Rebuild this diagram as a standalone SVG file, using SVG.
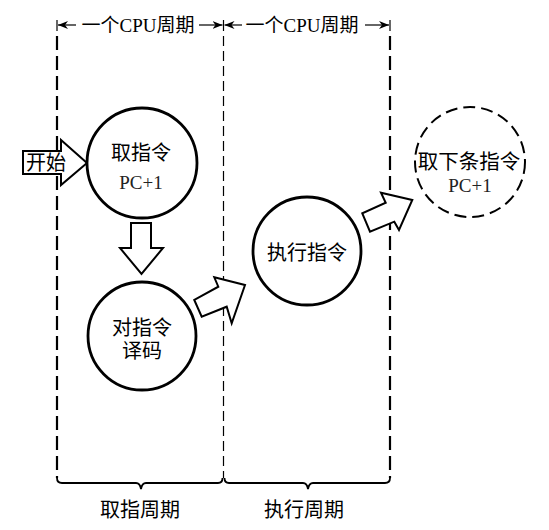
<svg xmlns="http://www.w3.org/2000/svg" width="549" height="530" viewBox="0 0 549 530">
<style>
.t{font-family:"Liberation Serif","Noto Sans CJK SC",serif;fill:#000;text-anchor:middle}
.cn{font-size:19px}
.nd{font-size:20px}
.pc{font-size:19px;fill:#222}
.node{fill:#fff;stroke:#000;stroke-width:2.8}
.dnode{fill:#fff;stroke:#000;stroke-width:2;stroke-dasharray:12 6}
.arw{fill:#fff;stroke:#000;stroke-width:2;stroke-linejoin:miter}
.thick{stroke:#000;stroke-width:2.2;stroke-dasharray:14 6;fill:none}
.thin{stroke:#000;stroke-width:1.2;stroke-dasharray:10 5;fill:none}
.brace{stroke:#000;stroke-width:1.8;fill:none}
.dim{stroke:#000;stroke-width:1.2;fill:none}
</style>
<defs>
<marker id="ah" viewBox="0 0 10 8" refX="10" refY="4" markerWidth="10" markerHeight="8" markerUnits="userSpaceOnUse" orient="auto">
<path d="M0,0 L10,4 L0,8 L3,4 Z" fill="#000"/>
</marker>
</defs>
<rect width="549" height="530" fill="#fff"/>
<g id="frame">
<line class="thick" x1="57" y1="36" x2="57" y2="478"/>
<line class="thin" x1="223.5" y1="36" x2="223.5" y2="478"/>
<line class="thick" x1="390" y1="36" x2="390" y2="478"/>
<path class="brace" d="M57,478 Q57,483 62,483 H136 Q140,483 141,489 Q142,483 146,483 H218 Q222.5,483 222.5,478"/>
<path class="brace" d="M224.5,478 Q224.5,483 229,483 H303 Q307,483 308,489 Q309,483 313,483 H385 Q390,483 390,478"/>
<g id="dimension">
<line class="dim" x1="57" y1="20" x2="57" y2="31" stroke-width="2"/>
<line class="dim" x1="223.5" y1="20" x2="223.5" y2="31"/>
<line class="dim" x1="390" y1="20" x2="390" y2="31" stroke-width="2"/>
<line class="dim" x1="76" y1="25" x2="58" y2="25" marker-end="url(#ah)"/>
<line class="dim" x1="199" y1="25" x2="222.5" y2="25" marker-end="url(#ah)"/>
<line class="dim" x1="242" y1="25" x2="224.5" y2="25" marker-end="url(#ah)"/>
<line class="dim" x1="365" y1="25" x2="389" y2="25" marker-end="url(#ah)"/>
<text class="t cn" x="138" y="32">一个CPU周期</text>
<text class="t cn" x="302" y="32">一个CPU周期</text>
</g>
<text class="t" x="140" y="517" font-size="20">取指周期</text>
<text class="t" x="304" y="517" font-size="20">执行周期</text>
</g>
<g id="connectors">
<g id="start-arrow">
<polygon class="arw" points="23,151 61,151 61,140 87,163 61,185 61,174 23,174"/>
<text class="t" font-size="20" x="46" y="170">开始</text>
</g>
<polygon class="arw" points="131,223 151,223 151,248 163,248 141.5,274 120,248 131,248"/>
<polygon class="arw" points="194.3,300 201.7,316.7 226.7,306.7 231.7,323.3 245,285 214.3,277.3 218.3,286.7"/>
<polygon class="arw" points="362.3,213.3 370,231.7 394.3,221.7 399,230 412.3,200 381,192.7 385.7,202.7"/>
</g>
<g id="fetch">
<circle class="node" cx="142" cy="163" r="55"/>
<text class="t nd" x="141" y="160">取指令</text>
<text class="t pc" x="141" y="189">PC+1</text>
</g>
<g id="decode">
<circle class="node" cx="142" cy="336" r="54"/>
<text class="t nd" x="142" y="335">对指令</text>
<text class="t nd" x="142" y="358">译码</text>
</g>
<g id="execute">
<circle class="node" cx="307" cy="251" r="54"/>
<text class="t nd" x="307" y="260">执行指令</text>
</g>
<g id="next">
<circle class="dnode" cx="470" cy="162" r="55"/>
<text class="t" font-size="20.5" x="469" y="169">取下条指令</text>
<text class="t pc" x="470" y="192">PC+1</text>
</g>
</svg>
